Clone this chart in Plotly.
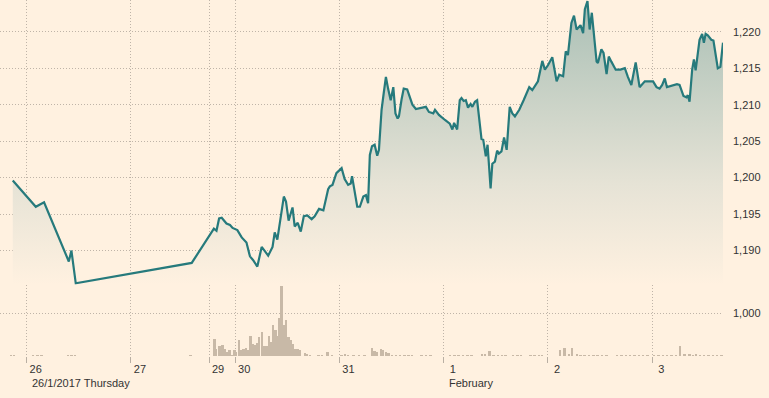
import plotly.graph_objects as go

# ---- data (x in compressed trading hours from 26 Jan 00:00) ----
price_hours = [
    -3.2, 2.1, 4.0, 9.7, 10.3, 11.3, 38.0,
    43.1, 43.7, 44.3, 44.9, 46.0, 46.8, 47.4, 48.5, 49.5, 50.6, 51.4, 52.1, 53.1,
    54.1, 55.6, 56.6, 57.1, 57.7, 58.7, 59.2, 59.7, 60.3, 61.2, 61.7, 62.4, 63.1,
    63.8, 64.6, 65.6, 66.3, 67.3, 68.3, 69.4,
    69.8, 70.4, 71.3, 72.5, 73.2, 74.0, 74.6, 74.9, 75.5, 76.1, 76.7, 77.5, 78.1,
    78.6, 79.0, 79.5, 80.1, 80.7, 81.1, 81.7, 82.2, 82.7, 83.2, 83.8, 84.4, 84.9,
    85.4, 85.7, 86.3, 86.8, 87.6, 88.2, 88.8, 89.6, 90.7, 91.9, 92.6, 93.6, 94.0,
    94.9, 96.3, 97.4, 98.0, 98.4, 99.1,
    99.7, 100.1, 100.6, 101.1, 101.6, 102.2, 102.6, 103.2, 103.7, 104.7, 105.1,
    105.7, 106.1, 106.8, 107.2, 107.8, 108.3, 108.7, 109.3, 109.9, 110.5, 111.2,
    111.8, 112.4, 113.4, 114.4, 115.7, 116.4, 117.7, 118.7, 119.3, 120.0, 121.0,
    122.0, 122.6, 123.5, 124.1, 124.6, 125.4, 126.0, 126.6, 127.5, 128.1, 128.5,
    129.1, 129.6, 130.1,
    131.2, 131.5, 132.3, 132.8, 133.5, 134.0, 134.6, 135.6, 136.7, 137.7, 138.4,
    139.2, 140.2, 141.1, 142.3, 144.2, 145.0, 145.7, 146.3, 146.9, 147.4, 148.6,
    149.7, 150.3, 151.2, 151.9, 152.2, 152.6, 153.2, 153.6, 154.0, 154.9, 155.5,
    155.9, 156.3, 156.8, 157.6, 158.1, 158.6, 159.1, 159.7, 160.3,
]
price_values = [
    1199.6, 1196.0, 1196.6, 1188.5, 1190.0, 1185.5, 1188.3,
    1193.0, 1192.7, 1194.4, 1194.5, 1193.7, 1193.5, 1193.1, 1192.8, 1191.8, 1191.1,
    1189.2, 1188.7, 1187.8, 1190.5, 1189.3, 1190.5, 1192.5, 1191.5, 1195.8, 1197.4,
    1196.7, 1194.1, 1195.9, 1193.3, 1193.8, 1192.6, 1194.7, 1194.8, 1194.3, 1194.7,
    1195.7, 1195.5, 1198.4,
    1198.8, 1199.0, 1200.6, 1201.3, 1199.8, 1199.0, 1199.2, 1200.2, 1198.3, 1196.0,
    1196.0, 1197.4, 1197.6, 1196.5, 1203.1, 1204.3, 1204.5, 1203.0, 1203.8, 1209.3,
    1211.6, 1213.8, 1212.2, 1210.6, 1212.4, 1208.8, 1208.1, 1208.4, 1210.7, 1212.2,
    1212.1, 1211.1, 1210.0, 1209.4, 1209.5, 1209.7, 1209.0, 1208.8, 1209.3, 1208.6,
    1207.9, 1207.4, 1206.6, 1207.5, 1206.6,
    1210.6, 1210.9, 1210.5, 1210.6, 1209.6, 1210.1, 1209.7, 1210.4, 1210.6, 1205.3,
    1205.2, 1202.9, 1204.5, 1198.5, 1201.9, 1202.2, 1203.7, 1203.3, 1203.6, 1205.5,
    1203.8, 1209.7, 1208.8, 1208.4, 1209.3, 1210.6, 1212.4, 1212.0, 1213.2, 1216.0,
    1214.8, 1215.4, 1216.5, 1213.2, 1214.1, 1213.9, 1217.3, 1216.8, 1221.2, 1222.2,
    1220.3, 1220.9, 1219.8, 1223.1, 1224.2, 1220.3, 1222.6,
    1215.9, 1215.7, 1217.6, 1217.1, 1214.2, 1216.6, 1215.9, 1214.8, 1214.8, 1215.0,
    1213.8, 1212.7, 1215.8, 1212.4, 1213.2, 1213.2, 1212.4, 1212.2, 1212.7, 1213.6,
    1212.4, 1212.6, 1212.8, 1212.7, 1211.2, 1211.0, 1211.3, 1210.4, 1214.8, 1216.2,
    1214.7, 1218.9, 1219.7, 1218.5, 1219.7, 1219.5, 1218.9, 1218.8, 1216.6, 1215.0,
    1215.2, 1218.5,
]

volume_hours = [
    -3.5, -2.8, 1.5, 2.5, 3.5, 9.6, 10.4, 11.2, 37.8,
    43.3, 43.7, 44.4, 45.1, 45.7, 46.2, 46.7, 47.4, 47.9, 48.3, 48.9, 49.4, 50.0,
    50.5, 50.9, 51.6, 52.1, 52.6, 53.1, 53.6, 54.2, 54.7, 55.3, 55.8, 56.3, 56.8,
    57.3, 57.9, 58.3, 58.7, 59.2, 59.8, 60.3, 60.8, 61.3, 61.9, 62.4, 62.9,
    64.1, 64.6, 65.3, 67.2, 68.0, 69.3, 70.3, 72.5, 73.4, 74.0, 75.3, 76.5, 77.8,
    79.6, 80.1, 80.7, 81.6, 82.1, 82.8, 83.4, 84.1, 85.1, 86.0, 87.0, 88.0, 88.8,
    91.0, 92.0, 93.0, 97.5, 98.5, 99.5, 100.5, 101.5, 102.5,
    104.9, 105.6, 106.6, 107.5, 108.5, 109.5, 110.3, 112.0, 113.0, 113.9,
    116.0, 117.0, 118.0, 118.7, 122.8, 123.9, 124.9, 125.6, 126.7,
    127.5, 128.5, 129.5, 130.5, 131.5, 132.5, 133.5, 136.0, 137.0, 138.0,
    139.0, 140.0, 141.0, 142.0, 143.0, 144.5, 145.5, 146.5, 147.5, 148.5, 149.5,
    150.5, 151.5, 152.6, 153.4, 154.2, 155.0, 156.0, 157.0, 158.0, 159.0, 160.0,
]
volume_values = [
    18, 20, 20, 18, 22, 20, 18, 22, 15,
    398, 180, 234, 258, 157, 101, 140, 23, 140, 101, 375, 140, 180,
    203, 140, 468, 281, 258, 312, 452, 569, 234, 234, 468, 335, 726,
    625, 468, 906, 1639, 726, 843, 452, 375, 281, 180, 157, 140,
    78, 47, 23, 10, 12, 101, 23, 15, 47, 15, 20, 15, 10,
    195, 125, 101, 164, 140, 101, 78, 31, 31, 15, 18, 12, 15,
    15, 18, 12, 15, 12, 18, 15, 20, 15,
    62, 62, 117, 15, 18, 12, 15, 15, 20, 12,
    15, 18, 15, 12, 140, 195, 62, 195, 47,
    18, 15, 20, 15, 18, 12, 15, 15, 18, 12,
    15, 12, 18, 15, 12, 15, 18, 15, 12, 18, 15,
    234, 47, 62, 39, 62, 15, 18, 12, 15, 18, 15,
]

day_tick_hours = [0, 24, 42, 48, 72, 96, 120, 144]
day_tick_labels = ["26", "27", "29", "30", "31", "1", "2", "3"]
sub_label_hours = [0, 96]
sub_label_texts = ["26/1/2017 Thursday", "February"]

price_tick_values = [1190, 1195, 1200, 1205, 1210, 1215, 1220]
price_tick_labels = ["1,190", "1,195", "1,200", "1,205", "1,210", "1,215", "1,220"]
volume_tick_values = [1000]
volume_tick_labels = ["1,000"]

# ---- styling ----
BG = "#fff1e0"
LINE = "#267a7c"
GRID = "#bfb4a8"
GRID_DASH = "1px,2px"
TEXT = "#333333"
FONT = "Liberation Sans, Arial, sans-serif"

fig = go.Figure()

fig.add_trace(go.Bar(
    x=volume_hours, y=volume_values, xaxis="x2", yaxis="y2",
    width=0.45, marker=dict(color="#c8b9a7", line=dict(width=0)),
    showlegend=False, hoverinfo="skip",
))

fig.add_trace(go.Scatter(
    x=price_hours, y=price_values, xaxis="x", yaxis="y",
    mode="lines", line=dict(color=LINE, width=2.2),
    fill="tozeroy",
    fillgradient=dict(
        type="vertical",
        colorscale=[[0, "rgba(255,241,224,1)"], [0.35, "#e6e3d6"], [1, "#a9bfb5"]],
        start=1185.3, stop=1224.35,
    ),
    showlegend=False, hoverinfo="skip",
))

x_range = [-6.14, 160.3]

fig.update_layout(
    width=769, height=398,
    margin=dict(l=0, r=46, t=0, b=42, autoexpand=False),
    paper_bgcolor=BG, plot_bgcolor=BG,
    font=dict(family=FONT, size=11, color=TEXT),
    bargap=0,
    xaxis=dict(
        domain=[0, 1], anchor="y", range=x_range, automargin=False,
        tickmode="array", tickvals=day_tick_hours, showticklabels=False,
        ticks="", showgrid=True, gridcolor=GRID, griddash=GRID_DASH, gridwidth=1,
        zeroline=False, showline=False,
    ),
    xaxis2=dict(
        domain=[0, 1], anchor="y2", range=x_range, matches="x", automargin=False,
        tickmode="array", tickvals=day_tick_hours, ticktext=day_tick_labels,
        ticks="outside", ticklen=6, tickcolor="#b9afa3", tickwidth=1,
        ticklabelshift=9, ticklabelstandoff=-3,
        showgrid=True, gridcolor=GRID, griddash=GRID_DASH, gridwidth=1,
        zeroline=False, showline=False,
        tickfont=dict(family=FONT, size=11, color=TEXT),
    ),
    yaxis=dict(
        domain=[0.2, 1], anchor="x", range=[1185.3, 1224.35], side="right",
        automargin=False,
        tickmode="array", tickvals=price_tick_values, ticktext=price_tick_labels,
        ticks="", ticklabelstandoff=9,
        showgrid=True, gridcolor=GRID, griddash=GRID_DASH, gridwidth=1,
        zeroline=False, showline=False,
        tickfont=dict(family=FONT, size=11, color=TEXT),
    ),
    yaxis2=dict(
        domain=[0, 0.2], anchor="x2", range=[0, 1667], side="right",
        automargin=False,
        tickmode="array", tickvals=volume_tick_values, ticktext=volume_tick_labels,
        ticks="", ticklabelstandoff=9,
        showgrid=True, gridcolor=GRID, griddash=GRID_DASH, gridwidth=1,
        zeroline=False, showline=False,
        tickfont=dict(family=FONT, size=11, color=TEXT),
    ),
)

for hx, txt in zip(sub_label_hours, sub_label_texts):
    fig.add_annotation(
        x=hx, xref="x2", y=-0.0758, yref="paper",
        text=txt, showarrow=False, xanchor="left", yanchor="middle",
        xshift=3, font=dict(family=FONT, size=11, color=TEXT),
    )

fig.write_html(
    "out.html",
    config={"displayModeBar": False},
    post_script="document.body.style.margin='0';document.body.style.padding='0';",
)
